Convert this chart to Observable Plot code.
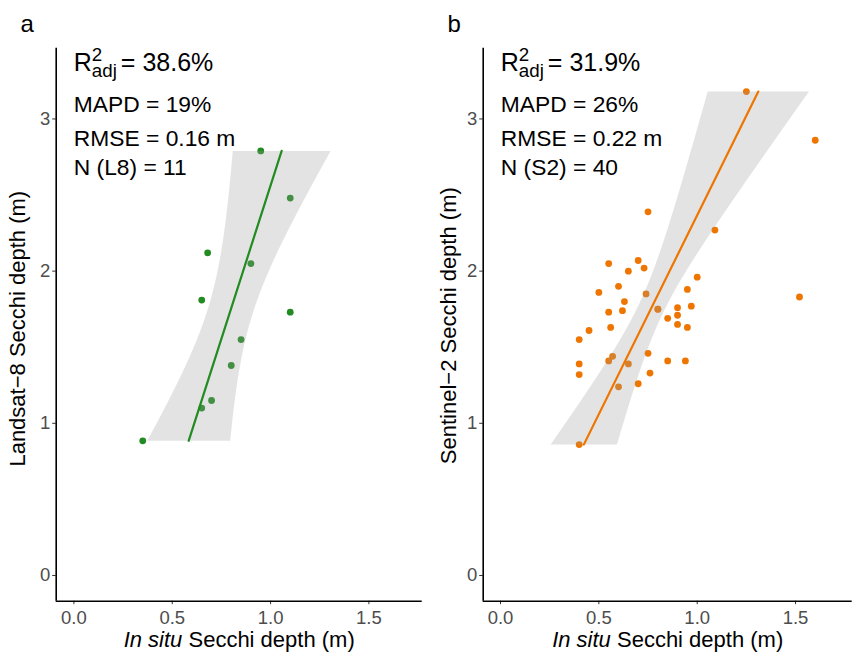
<!DOCTYPE html>
<html><head><meta charset="utf-8">
<script src="https://cdn.jsdelivr.net/npm/d3@7"></script>
<script src="https://cdn.jsdelivr.net/npm/@observablehq/plot@0.6"></script>
<style>
body{margin:0;background:#fff;}
#wrap{position:relative;width:852px;height:655px;overflow:hidden;}
.panel{position:absolute;top:0;}
</style></head><body>
<div id="wrap"></div>
<script>
// ---------- data ----------
// Panel a: Landsat-8 vs in situ
const l8InSitu = [0.95, 1.10, 0.68, 0.90, 0.65, 1.10, 0.85, 0.80, 0.70, 0.65, 0.35];
const l8Sat    = [2.79, 2.48, 2.12, 2.05, 1.81, 1.73, 1.55, 1.38, 1.15, 1.10, 0.885];
// Panel b: Sentinel-2 vs in situ
const s2InSitu = [1.25, 1.60, 0.75, 1.09, 0.55, 0.70, 0.73, 0.65, 1.00, 0.60,
                  0.50, 0.95, 0.74, 1.52, 0.63, 0.55, 0.62, 0.80, 0.90, 0.97,
                  0.90, 0.85, 0.90, 0.95, 0.45, 0.56, 0.40, 0.75, 0.57, 0.55,
                  0.65, 0.85, 0.94, 0.40, 0.40, 0.76, 0.60, 0.70, 0.40, 0.80];
const s2Sat    = [3.18, 2.86, 2.39, 2.27, 2.05, 2.07, 2.02, 2.00, 1.96, 1.90,
                  1.86, 1.88, 1.85, 1.83, 1.80, 1.73, 1.74, 1.75, 1.76, 1.77,
                  1.71, 1.69, 1.65, 1.63, 1.61, 1.63, 1.55, 1.46, 1.44, 1.41,
                  1.39, 1.41, 1.41, 1.39, 1.32, 1.33, 1.24, 1.26, 0.86, 1.75];
const xTicks = [0, 0.5, 1.0, 1.5];
const yTicks = [0, 1, 2, 3];
const xTitle = "In situ Secchi depth (m)";
const panelTags = ["a", "b"];
const yTitles = ["Landsat\u22128 Secchi depth (m)", "Sentinel\u22122 Secchi depth (m)"];
const r2Values = ["38.6%", "31.9%"];
const statLinesA = ["MAPD = 19%", "RMSE = 0.16 m", "N (L8) = 11"];
const statLinesB = ["MAPD = 26%", "RMSE = 0.22 m", "N (S2) = 40"];

// ---------- layout ----------
const FONT = '"Liberation Sans", Arial, Helvetica, sans-serif';
const panels = [
  {left: 0, width: 426, marginLeft: 55.7, marginRight: 4.3, xDomain: [-0.09, 1.771],
   xs: l8InSitu, ys: l8Sat, color: "#228B22", tag: panelTags[0], yTitle: yTitles[0],
   r2: r2Values[0], stats: statLinesA, yTitleDx: -31.7, yTitleDy: 4},
  {left: 426, width: 426, marginLeft: 56.7, marginRight: 0.3, xDomain: [-0.088, 1.788],
   xs: s2InSitu, ys: s2Sat, color: "#EE7600", tag: panelTags[1], yTitle: yTitles[1],
   r2: r2Values[1], stats: statLinesB, yTitleDx: -27.7, yTitleDy: 1}
];
const yDomain = [-0.169, 3.465];
const statDy = [63.3, 98, 126.5];
const R2_PREFIX = "R2adj = ";

function makePanel(p) {
  const data = p.xs.map((x, i) => ({x, y: p.ys[i]}));
  const r2Text = R2_PREFIX + p.r2;
  const svg = Plot.plot({
    width: p.width, height: 655,
    marginTop: 47.7, marginBottom: 54.3, marginLeft: p.marginLeft, marginRight: p.marginRight,
    style: {fontFamily: FONT, fontSize: "18.5px", background: "transparent", overflow: "visible"},
    x: {domain: p.xDomain, label: null},
    y: {domain: yDomain, label: null},
    marks: [
      Plot.axisX({ticks: xTicks, tickFormat: d3.format(".1f"), tickSize: 3.5, tickPadding: 6.5,
                  stroke: "#333", fill: "#4d4d4d", label: null}),
      Plot.axisY({ticks: yTicks, tickFormat: d3.format("d"), tickSize: 3.5, tickPadding: 2.5,
                  stroke: "#333", fill: "#4d4d4d", label: null}),
      Plot.dot(data, {x: "x", y: "y", r: 3.4, fill: p.color, stroke: "none"}),
      Plot.linearRegressionX(data, {x: "x", y: "y", stroke: p.color, strokeWidth: 2.2,
                                    fill: "#999999", fillOpacity: 0.28}),
      Plot.ruleX([p.xDomain[0]], {stroke: "#000", strokeWidth: 1.6}),
      Plot.ruleY([yDomain[0]], {stroke: "#000", strokeWidth: 1.6}),
      // annotations
      Plot.text([r2Text], {text: d => d, frameAnchor: "top-left", dx: 17.6, dy: 22.3,
                         lineAnchor: "bottom", textAnchor: "start", fontSize: 25, fill: "#000"}),
      ...p.stats.map((s, i) => Plot.text([s], {text: d => d, frameAnchor: "top-left", dx: 17.6,
                         dy: statDy[i], lineAnchor: "bottom", textAnchor: "start",
                         fontSize: 22.8, fill: "#000"})),
      // axis titles
      Plot.text([xTitle], {text: d => d, frameAnchor: "bottom", dy: 46, lineAnchor: "bottom",
                           textAnchor: "middle", fontSize: 22, fill: "#000"}),
      Plot.text([p.yTitle], {text: d => d, frameAnchor: "left", rotate: -90, dx: p.yTitleDx,
                             dy: p.yTitleDy, lineAnchor: "bottom", textAnchor: "middle",
                             fontSize: 22, fill: "#000"}),
      // panel tag
      Plot.text([p.tag], {text: d => d, frameAnchor: "top-left", dx: -35.7, dy: -16,
                          lineAnchor: "bottom", textAnchor: "start", fontSize: 24, fill: "#000"})
    ]
  });
  d3.select(svg).selectAll("text").each(function () {
    const t = d3.select(this);
    const content = t.text();
    if (content === r2Text) {
      // R^2_adj with stacked superscript and subscript
      t.text(null);
      t.append("tspan").text("R");
      t.append("tspan").attr("font-size", "0.75em").attr("dy", "-0.53em").text("2");
      t.append("tspan").attr("font-size", "0.75em").attr("dx", "-0.556em").attr("dy", "0.85em").text("adj");
      t.append("tspan").attr("dx", "-0.12em").attr("dy", "-0.24em").text(" = " + p.r2);
    } else if (content === xTitle) {
      const head = "In situ";
      t.text(null);
      t.append("tspan").attr("font-style", "italic").text(head);
      t.append("tspan").text(content.slice(head.length));
    }
  });
  const div = document.createElement("div");
  div.className = "panel";
  div.style.left = p.left + "px";
  div.appendChild(svg);
  document.getElementById("wrap").appendChild(div);
}
panels.forEach(makePanel);
</script>
</body></html>
